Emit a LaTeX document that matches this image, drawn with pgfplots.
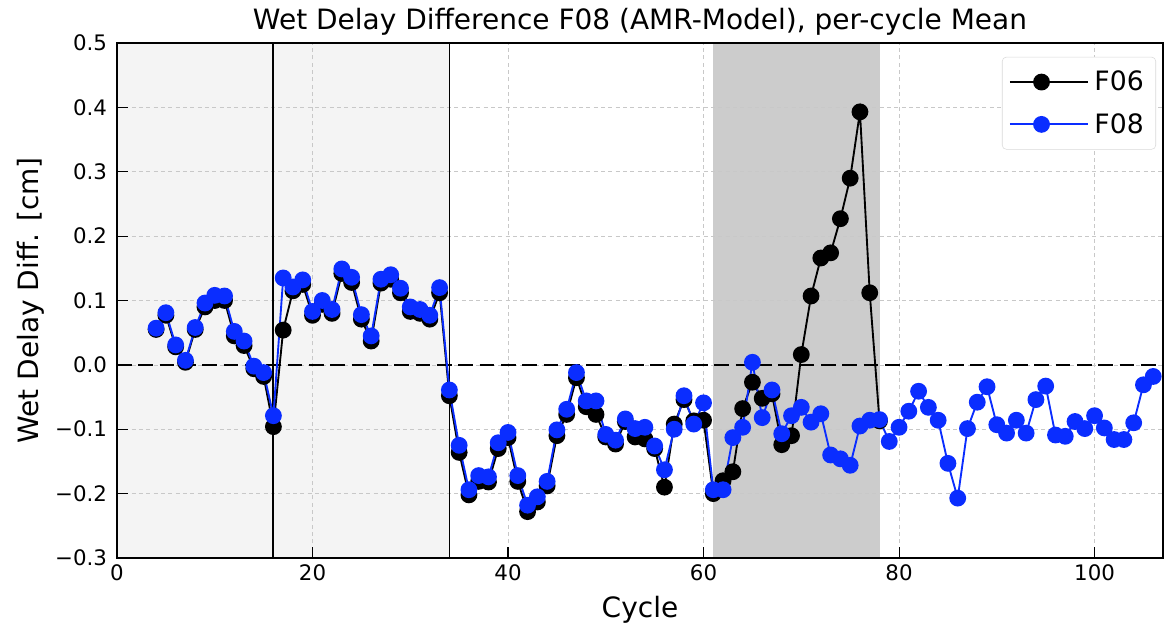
\documentclass[border=0pt]{standalone}
\usepackage{pgfplots}
\pgfplotsset{compat=1.18}
\usepackage{fontspec}
\setmainfont{DejaVu Sans}
\definecolor{myblue}{RGB}{10,45,255}
\definecolor{lightshade}{RGB}{244,244,244}
\definecolor{darkshade}{RGB}{204,204,204}
\definecolor{gridgray}{RGB}{200,200,200}
\begin{document}
\begin{tikzpicture}
\begin{axis}[name=ax, set layers, scale only axis, width=784.5pt, height=386.25pt,
  xmin=0, xmax=107, ymin=-0.3, ymax=0.5,
  xtick={0,20,40,60,80,100}, xticklabels={0,20,40,60,80,100},
  ytick={-0.3,-0.2,-0.1,0,0.1,0.2,0.3,0.4,0.5},
  yticklabels={−0.3,−0.2,−0.1,0.0,0.1,0.2,0.3,0.4,0.5},
  tick align=inside, tick pos=left, major tick length=8pt,
  tick style={black, line width=0.8pt},
  axis line style={line width=1pt},
  grid=major, grid style={gridgray, dash pattern=on 3pt off 2.5pt, line width=0.5pt},
  ticklabel style={font=\fontsize{16}{19}\selectfont},
  yticklabel style={xshift=-4pt},
  xticklabel style={yshift=-1.5pt},
  xlabel={Cycle}, ylabel={Wet Delay Diff. [cm]},
  xlabel style={at={(axis description cs:0.5,-0.1165)}, anchor=base, font=\fontsize{21}{25}\selectfont},
  ylabel style={at={(axis description cs:-0.0752,0.5)}, anchor=base, font=\fontsize{21}{25}\selectfont},
  legend style={at={(0.9933,0.973)}, anchor=north east, draw=gray!30, rounded corners=3pt,
    fill=white, font=\fontsize{20}{24}\selectfont, inner xsep=5pt, inner ysep=6.5pt, row sep=7.4pt,
    nodes={inner sep=4pt}},
  legend cell align=left,
  legend image code/.code={\path (-1.75pt,0pt) -- (57pt,0pt); \draw[mark repeat=2,mark phase=2,#1] plot coordinates {(0pt,0pt) (22pt,0pt) (44pt,0pt)};},
]
% shaded regions
\addplot[draw=none, fill=lightshade, on layer=axis background, forget plot] coordinates {(0,-0.3) (34,-0.3) (34,0.5) (0,0.5)} -- cycle;
\addplot[draw=none, fill=darkshade, on layer=axis background, forget plot] coordinates {(61,-0.3) (78,-0.3) (78,0.5) (61,0.5)} -- cycle;
% reference lines
\addplot[black, line width=1.5pt, forget plot] coordinates {(16,-0.3) (16,0.5)};
\addplot[black, line width=0.75pt, forget plot] coordinates {(34,-0.3) (34,0.5)};
\addplot[black, line width=2pt, dash pattern=on 11pt off 5pt, forget plot] coordinates {(0,0) (107,0)};
% F06
\addplot[black, line width=1.4pt, mark=*, mark size=5.6pt, mark options={fill=black, draw=black}] coordinates {
(4,0.055) (5,0.077) (6,0.028) (7,0.004) (8,0.055) (9,0.090) (10,0.100) (11,0.100) (12,0.045) (13,0.030)
(14,-0.006) (15,-0.018) (16,-0.096) (17,0.054) (18,0.115) (19,0.125) (20,0.077) (21,0.094) (22,0.080) (23,0.142)
(24,0.128) (25,0.071) (26,0.037) (27,0.127) (28,0.133) (29,0.112) (30,0.083) (31,0.080) (32,0.071) (33,0.112)
(34,-0.048) (35,-0.136) (36,-0.202) (37,-0.181) (38,-0.182) (39,-0.130) (40,-0.113) (41,-0.181) (42,-0.228) (43,-0.213)
(44,-0.188) (45,-0.110) (46,-0.077) (47,-0.020) (48,-0.065) (49,-0.077) (50,-0.112) (51,-0.123) (52,-0.088) (53,-0.112)
(54,-0.115) (55,-0.130) (56,-0.190) (57,-0.092) (58,-0.054) (59,-0.087) (60,-0.086) (61,-0.200) (62,-0.180) (63,-0.166)
(64,-0.068) (65,-0.027) (66,-0.052) (67,-0.045) (68,-0.124) (69,-0.110) (70,0.016) (71,0.107) (72,0.166) (73,0.174)
(74,0.227) (75,0.290) (76,0.393) (77,0.112) (78,-0.087)
};
\addlegendentry{F06}
% F08
\addplot[myblue, line width=1.4pt, mark=*, mark size=5.6pt, mark options={fill=myblue, draw=myblue}] coordinates {
(4,0.057) (5,0.081) (6,0.031) (7,0.007) (8,0.058) (9,0.096) (10,0.108) (11,0.107) (12,0.052) (13,0.037)
(14,-0.002) (15,-0.012) (16,-0.079) (17,0.135) (18,0.121) (19,0.132) (20,0.083) (21,0.100) (22,0.086) (23,0.149)
(24,0.136) (25,0.078) (26,0.045) (27,0.133) (28,0.140) (29,0.119) (30,0.090) (31,0.086) (32,0.077) (33,0.120)
(34,-0.039) (35,-0.125) (36,-0.194) (37,-0.172) (38,-0.174) (39,-0.121) (40,-0.105) (41,-0.172) (42,-0.218) (43,-0.205)
(44,-0.181) (45,-0.101) (46,-0.069) (47,-0.012) (48,-0.056) (49,-0.056) (50,-0.108) (51,-0.117) (52,-0.084) (53,-0.099)
(54,-0.097) (55,-0.126) (56,-0.163) (57,-0.100) (58,-0.048) (59,-0.092) (60,-0.059) (61,-0.194) (62,-0.194) (63,-0.113)
(64,-0.097) (65,0.004) (66,-0.082) (67,-0.039) (68,-0.107) (69,-0.079) (70,-0.066) (71,-0.089) (72,-0.076) (73,-0.140)
(74,-0.146) (75,-0.156) (76,-0.095) (77,-0.086) (78,-0.085) (79,-0.119) (80,-0.097) (81,-0.072) (82,-0.041) (83,-0.066)
(84,-0.086) (85,-0.153) (86,-0.207) (87,-0.099) (88,-0.058) (89,-0.034) (90,-0.093) (91,-0.106) (92,-0.086) (93,-0.106)
(94,-0.054) (95,-0.033) (96,-0.109) (97,-0.111) (98,-0.088) (99,-0.099) (100,-0.079) (101,-0.098) (102,-0.116) (103,-0.116)
(104,-0.090) (105,-0.031) (106,-0.018)
};
\addlegendentry{F08}
\end{axis}
\node[anchor=base, font=\fontsize{21}{25}\selectfont, inner sep=0pt] at ([yshift=10pt]ax.north) {Wet Delay Difference F08 (AMR-Model), per-cycle Mean};
\pgfresetboundingbox
\path ([xshift=-87.75pt,yshift=-49.5pt]ax.south west) rectangle ([xshift=1.5pt,yshift=32.25pt]ax.north east);
\end{tikzpicture}
\end{document}
